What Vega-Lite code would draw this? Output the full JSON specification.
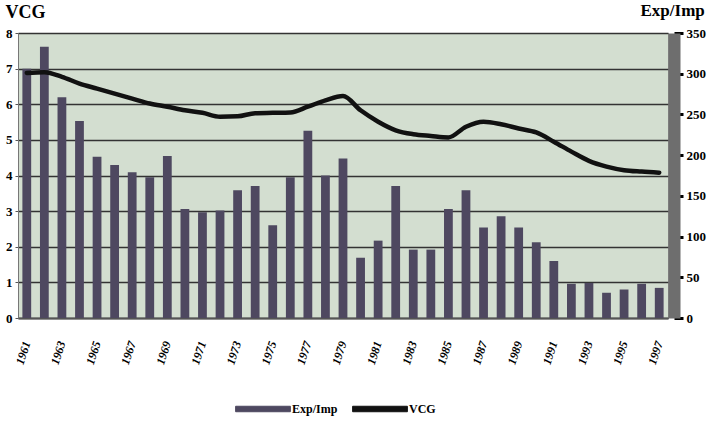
{
  "$schema": "https://vega.github.io/schema/vega-lite/v6.json",
  "width": 650,
  "height": 285,
  "autosize": {"type": "none"},
  "padding": {"left": 18, "top": 33, "right": 46, "bottom": 119},
  "background": "white",
  "config": {
    "view": {"fill": "#d3ded0", "stroke": "#8a8a8a", "strokeWidth": 1},
    "font": "Liberation Serif"
  },
  "data": {
    "values": [
      {"year": 1961, "exp": 306, "vcg": 6.88},
      {"year": 1962, "exp": 333, "vcg": 6.9},
      {"year": 1963, "exp": 271, "vcg": 6.77},
      {"year": 1964, "exp": 242, "vcg": 6.58},
      {"year": 1965, "exp": 198, "vcg": 6.44},
      {"year": 1966, "exp": 188, "vcg": 6.3},
      {"year": 1967, "exp": 179, "vcg": 6.16},
      {"year": 1968, "exp": 173, "vcg": 6.02},
      {"year": 1969, "exp": 199, "vcg": 5.93},
      {"year": 1970, "exp": 134, "vcg": 5.83},
      {"year": 1971, "exp": 130, "vcg": 5.76},
      {"year": 1972, "exp": 132, "vcg": 5.65},
      {"year": 1973, "exp": 157, "vcg": 5.66},
      {"year": 1974, "exp": 162, "vcg": 5.75},
      {"year": 1975, "exp": 114, "vcg": 5.76},
      {"year": 1976, "exp": 173, "vcg": 5.77},
      {"year": 1977, "exp": 230, "vcg": 5.93},
      {"year": 1978, "exp": 175, "vcg": 6.11},
      {"year": 1979, "exp": 196, "vcg": 6.23},
      {"year": 1980, "exp": 74, "vcg": 5.83},
      {"year": 1981, "exp": 95, "vcg": 5.51},
      {"year": 1982, "exp": 162, "vcg": 5.27},
      {"year": 1983, "exp": 84, "vcg": 5.16},
      {"year": 1984, "exp": 84, "vcg": 5.11},
      {"year": 1985, "exp": 134, "vcg": 5.07},
      {"year": 1986, "exp": 157, "vcg": 5.37},
      {"year": 1987, "exp": 111, "vcg": 5.51},
      {"year": 1988, "exp": 125, "vcg": 5.44},
      {"year": 1989, "exp": 111, "vcg": 5.32},
      {"year": 1990, "exp": 93, "vcg": 5.21},
      {"year": 1991, "exp": 70, "vcg": 4.95},
      {"year": 1992, "exp": 42, "vcg": 4.67},
      {"year": 1993, "exp": 43, "vcg": 4.41},
      {"year": 1994, "exp": 31, "vcg": 4.25},
      {"year": 1995, "exp": 35, "vcg": 4.15},
      {"year": 1996, "exp": 42, "vcg": 4.11},
      {"year": 1997, "exp": 37, "vcg": 4.08}
    ]
  },
  "encoding": {
    "x": {
      "field": "year",
      "type": "ordinal",
      "title": null,
      "scale": {"paddingInner": 0.5, "paddingOuter": 0.25},
      "axis": {
        "values": [1961, 1963, 1965, 1967, 1969, 1971, 1973, 1975, 1977, 1979, 1981, 1983, 1985, 1987, 1989, 1991, 1993, 1995, 1997],
        "labelAngle": -72,
        "labelFont": "Liberation Serif",
        "labelFontWeight": "bold",
        "labelFontStyle": "italic",
        "labelFontSize": 12,
        "labelColor": "#000",
        "labelPadding": 23,
        "ticks": false,
        "domainColor": "#555",
        "domainWidth": 2,
        "grid": false
      }
    }
  },
  "layer": [
    {
      "mark": {"type": "bar"},
      "encoding": {
        "y": {
          "field": "exp",
          "type": "quantitative",
          "scale": {"domain": [0, 350], "nice": false},
          "axis": {
            "orient": "right",
            "values": [0, 50, 100, 150, 200, 250, 300, 350],
            "grid": false,
            "offset": 6,
            "domainColor": "#6e6e6e",
            "domainWidth": 12,
            "tickColor": "#000",
            "tickWidth": 3,
            "tickSize": 9,
            "labelPadding": 3,
            "labelFont": "Liberation Serif",
            "labelFontWeight": "bold",
            "labelFontSize": 13,
            "labelColor": "#000",
            "title": "Exp/Imp",
            "titleAngle": 0,
            "titleAlign": "left",
            "titleBaseline": "middle",
            "titleX": -34,
            "titleY": -23,
            "titleFont": "Liberation Serif",
            "titleFontWeight": "bold",
            "titleFontSize": 17,
            "titleColor": "#000"
          }
        },
        "color": {
          "datum": "Exp/Imp",
          "type": "nominal",
          "scale": {"domain": ["Exp/Imp", "VCG"], "range": ["#4e4860", "#111111"]},
          "legend": {
            "title": null,
            "orient": "none",
            "direction": "horizontal",
            "legendX": 217,
            "legendY": 348,
            "symbolType": "M-1,-0.1H1V0.1H-1Z",
            "symbolSize": 3000,
            "symbolStrokeWidth": 1,
            "labelFont": "Liberation Serif",
            "labelFontWeight": "bold",
            "labelFontSize": 12,
            "labelColor": "#000",
            "labelOffset": 1,
            "columnPadding": 12
          }
        }
      }
    },
    {
      "mark": {"type": "line", "interpolate": "monotone", "strokeWidth": 4.5, "strokeCap": "round"},
      "encoding": {
        "y": {
          "field": "vcg",
          "type": "quantitative",
          "scale": {"domain": [0, 8], "nice": false},
          "axis": {
            "orient": "left",
            "values": [0, 1, 2, 3, 4, 5, 6, 7, 8],
            "grid": true,
            "gridColor": "#333",
            "gridWidth": 1.5,
            "domainColor": "#777",
            "tickColor": "#555",
            "tickSize": 3,
            "labelPadding": 3,
            "labelFont": "Liberation Serif",
            "labelFontWeight": "bold",
            "labelFontSize": 13,
            "labelColor": "#000",
            "title": "VCG",
            "titleAngle": 0,
            "titleAlign": "left",
            "titleBaseline": "middle",
            "titleX": -13,
            "titleY": -21,
            "titleFont": "Liberation Serif",
            "titleFontWeight": "bold",
            "titleFontSize": 18,
            "titleColor": "#000"
          }
        },
        "color": {"datum": "VCG", "type": "nominal"}
      }
    }
  ],
  "resolve": {"scale": {"y": "independent"}}
}
